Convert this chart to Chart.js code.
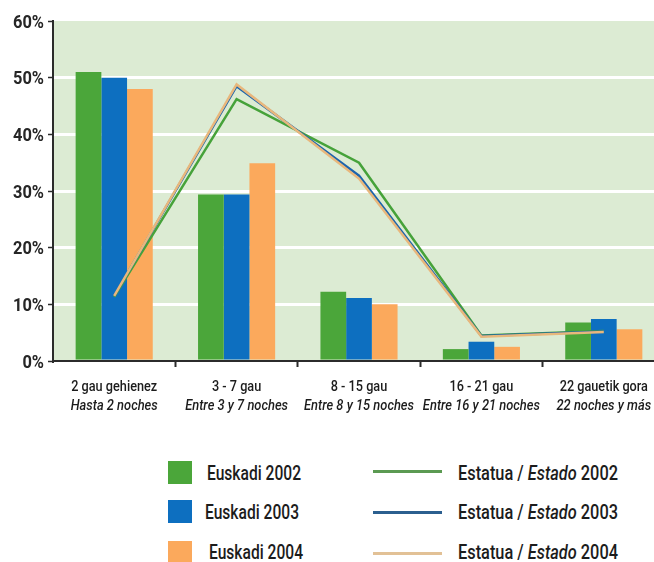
<!DOCTYPE html>
<html>
<head>
<meta charset="utf-8">
<script src="https://cdn.jsdelivr.net/npm/chart.js@4/dist/chart.umd.min.js"></script>
<style>
  html, body { margin: 0; padding: 0; background: #fff; overflow: hidden; }
  body { width: 654px; height: 562px; position: relative; font-family: Roboto, "DejaVu Sans Condensed", sans-serif; color: #1c1c1c; }
  #wrap { position: absolute; left: 0; top: 0; width: 669px; height: 440px; }
  .box { position: absolute; left: 168px; width: 24px; height: 23px; }
  .ln { position: absolute; left: 373px; width: 69px; height: 3px; }
  .txt { position: absolute; font-size: 19.5px; font-weight: 500; line-height: 22px; white-space: nowrap; transform-origin: 0 50%; }
</style>
</head>
<body>
<div id="wrap"><canvas id="chart"></canvas></div>

<div class="box" style="top:461px;background:#4ba63a"></div>
<div class="txt eu" style="left:207px;top:463px">Euskadi 2002</div>
<div class="box" style="top:500px;background:#0d6fc0"></div>
<div class="txt eu" style="left:205px;top:502px">Euskadi 2003</div>
<div class="box" style="top:541px;background:#fba95c"></div>
<div class="txt eu" style="left:209px;top:542px">Euskadi 2004</div>

<div class="ln" style="top:470px;background:#5b9a52"></div>
<div class="txt es" style="left:458px;top:463px">Estatua / <i>Estado</i> 2002</div>
<div class="ln" style="top:511px;background:#2b5f8f"></div>
<div class="txt es" style="left:458px;top:502px">Estatua / <i>Estado</i> 2003</div>
<div class="ln" style="top:552px;background:#e2c196"></div>
<div class="txt es" style="left:458px;top:542px">Estatua / <i>Estado</i> 2004</div>

<script>
// categories (two lines per label, the second one in italics)
const catsEu = ['2 gau gehienez', '3 - 7 gau', '8 - 15 gau', '16 - 21 gau', '22 gauetik gora'];
const catsEs = ['Hasta 2 noches', 'Entre 3 y 7 noches', 'Entre 8 y 15 noches', 'Entre 16 y 21 noches', '22 noches y más'];

// bars: Euskadi
const euskadi2002 = [51, 29.4, 12.2, 2.1, 6.8];
const euskadi2003 = [50, 29.4, 11.1, 3.4, 7.4];
const euskadi2004 = [48, 34.9, 10, 2.5, 5.6];

// lines: Estatua / Estado
const estado2002 = [11.3, 46.2, 35, 4.5, 5.3];
const estado2003 = [11.5, 48.5, 32.7, 4.4, 5.2];
const estado2004 = [11.5, 48.8, 32.2, 4.3, 5.1];

const yTicks = [0, 10, 20, 30, 40, 50, 60];

const FONT = 'Roboto, "DejaVu Sans Condensed", sans-serif';

// the original uses a condensed face, none is installed, so squeeze horizontally
function squeeze(selector, targetWidth) {
  const els = document.querySelectorAll(selector);
  const w = els[0].getBoundingClientRect().width;
  els.forEach(el => { el.style.transform = 'scaleX(' + (targetWidth / w) + ')'; });
}
squeeze('.eu', 94);
squeeze('.es', 160);

function drawSqueezed(ctx, text, x, y, s) {
  ctx.save();
  ctx.translate(x, y);
  ctx.scale(s, 1);
  ctx.fillText(text, 0, 0);
  ctx.restore();
}

// light green plot background
const plotBg = {
  id: 'plotBg',
  beforeDraw(chart) {
    const a = chart.chartArea, ctx = chart.ctx;
    ctx.save();
    ctx.fillStyle = '#dcebd3';
    ctx.fillRect(a.left, a.top, a.right - a.left, a.bottom - a.top);
    ctx.restore();
  }
};

// axis labels: two-line x labels (second line italic) and y percentages
const axisLabels = {
  id: 'axisLabels',
  afterDraw(chart) {
    const x = chart.scales.x, y = chart.scales.y, ctx = chart.ctx;
    ctx.save();
    ctx.fillStyle = '#1c1c1c';
    ctx.textBaseline = 'middle';
    ctx.textAlign = 'center';

    ctx.font = '500 15.5px ' + FONT;
    const s1 = 86 / ctx.measureText(catsEu[0]).width;
    catsEu.forEach((c, i) => drawSqueezed(ctx, c, x.getPixelForValue(i), 387, s1));

    ctx.font = 'italic 500 14.5px ' + FONT;
    const s2 = 110 / ctx.measureText(catsEs[2]).width;
    catsEs.forEach((c, i) => drawSqueezed(ctx, c, x.getPixelForValue(i), 406, s2));

    ctx.textAlign = 'right';
    ctx.fillStyle = '#262626';
    ctx.font = 'bold 18px ' + FONT;
    const s3 = 31 / ctx.measureText('50%').width;
    yTicks.forEach(v => drawSqueezed(ctx, v + '%', 44, y.getPixelForValue(v) + 2, s3));
    ctx.restore();
  }
};

const barStyle = { type: 'bar', order: 3, categoryPercentage: 0.63, barPercentage: 1 };
const lineStyle = { type: 'line', borderWidth: 2.5, pointRadius: 0, tension: 0, fill: false };

new Chart(document.getElementById('chart'), {
  data: {
    labels: catsEu,
    datasets: [
      { ...barStyle, label: 'Euskadi 2002', data: euskadi2002, backgroundColor: '#4ba63a' },
      { ...barStyle, label: 'Euskadi 2003', data: euskadi2003, backgroundColor: '#0d6fc0' },
      { ...barStyle, label: 'Euskadi 2004', data: euskadi2004, backgroundColor: '#fba95c' },
      { ...lineStyle, order: 2, label: 'Estatua / Estado 2002', data: estado2002, borderColor: '#46a23a' },
      { ...lineStyle, order: 1, label: 'Estatua / Estado 2003', data: estado2003, borderColor: '#1b64ad' },
      { ...lineStyle, order: 0, label: 'Estatua / Estado 2004', data: estado2004, borderColor: '#e8b77c' }
    ]
  },
  options: {
    responsive: true,
    maintainAspectRatio: false,
    animation: false,
    layout: { padding: { top: 21, right: 4, left: 0, bottom: 0 } },
    plugins: { legend: { display: false }, tooltip: { enabled: false } },
    scales: {
      x: {
        offset: true,
        afterFit(scale) { scale.height = 79; },
        border: { color: '#2b2b2b', width: 2 },
        grid: {
          offset: true,
          drawOnChartArea: false,
          drawTicks: true,
          tickLength: 6,
          tickWidth: 2,
          tickColor: ctx => ctx.index === 0 ? 'rgba(0,0,0,0)' : '#2b2b2b'
        },
        ticks: { display: false }
      },
      y: {
        min: 0,
        max: 60,
        afterFit(scale) { scale.width = 53; },
        afterBuildTicks(scale) { scale.ticks = yTicks.map(v => ({ value: v })); },
        border: { color: '#2b2b2b', width: 2 },
        grid: {
          color: ctx => (ctx.tick && (ctx.tick.value === 0 || ctx.tick.value === 60)) ? 'rgba(0,0,0,0)' : '#ffffff',
          lineWidth: 3,
          tickColor: '#2b2b2b',
          tickWidth: 1.5,
          tickLength: 5
        },
        ticks: { display: false }
      }
    }
  },
  plugins: [plotBg, axisLabels]
});
</script>
</body>
</html>
